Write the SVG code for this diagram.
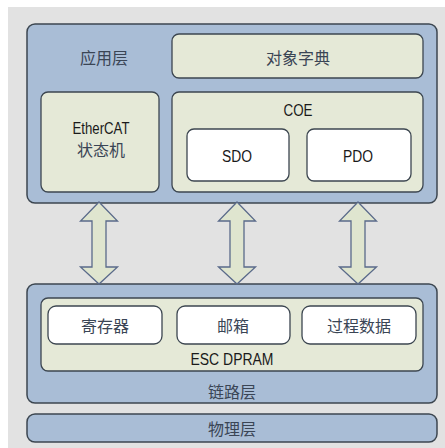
<svg xmlns="http://www.w3.org/2000/svg" width="445" height="448" viewBox="0 0 445 448">
<style>
.layer{fill:#a9bdd6;stroke:#3c4650;stroke-width:1.5}
.beige{fill:#e5e9d7;stroke:#3c4650;stroke-width:1.3}
.white{fill:#ffffff;stroke:#3c4650;stroke-width:1.3}
.arrow{fill:#dfe5cf;stroke:#5a6a8a;stroke-width:1.3;stroke-linejoin:miter}
text{font-family:"Liberation Sans","Noto Sans CJK SC",sans-serif;font-size:16px;fill:#1a1a1a;text-anchor:middle;dominant-baseline:central}
.cn{font-family:"Noto Sans CJK SC",sans-serif;font-size:16px;fill:#3a4555}
</style>
<defs>
<path id="dbl" d="M0,0 L18.5,19 L7,19 L7,65 L18.5,65 L0,82 L-18.5,65 L-7,65 L-7,19 L-18.5,19 Z"/>
</defs>
<rect x="0" y="0" width="445" height="448" fill="#ffffff"/>
<rect x="8" y="7" width="437" height="441" fill="#e2e2e2"/>
<g id="app-layer">
<rect class="layer" x="27" y="24" width="410" height="179" rx="8"/>
<text class="cn" x="104" y="57">应用层</text>
</g>
<g id="object-dictionary">
<rect class="beige" x="172" y="34" width="251" height="44" rx="7"/>
<text class="cn" x="298" y="57">对象字典</text>
</g>
<g id="ethercat-sm">
<rect class="beige" x="41" y="92" width="118" height="100" rx="7"/>
<text x="101" y="128" textLength="57" lengthAdjust="spacingAndGlyphs">EtherCAT</text>
<text class="cn" x="101" y="149">状态机</text>
</g>
<g id="coe">
<rect class="beige" x="172" y="92" width="251" height="100" rx="7"/>
<text x="298" y="110" textLength="29" lengthAdjust="spacingAndGlyphs">COE</text>
</g>
<g id="sdo">
<rect class="white" x="187" y="129" width="102" height="52" rx="7"/>
<text x="237" y="156" textLength="30" lengthAdjust="spacingAndGlyphs">SDO</text>
</g>
<g id="pdo">
<rect class="white" x="307" y="129" width="104" height="52" rx="7"/>
<text x="358" y="156" textLength="30" lengthAdjust="spacingAndGlyphs">PDO</text>
</g>
<g id="link-layer">
<rect class="layer" x="27" y="284" width="410" height="119" rx="8"/>
<text class="cn" x="232" y="391">链路层</text>
</g>
<g id="esc-dpram">
<rect class="beige" x="41" y="298" width="382" height="73" rx="7"/>
<text x="232" y="359" textLength="83" lengthAdjust="spacingAndGlyphs">ESC DPRAM</text>
</g>
<g id="register">
<rect class="white" x="48" y="306" width="114" height="38" rx="8"/>
<text class="cn" x="105" y="325">寄存器</text>
</g>
<g id="mailbox">
<rect class="white" x="177" y="306" width="113" height="38" rx="8"/>
<text class="cn" x="233" y="325">邮箱</text>
</g>
<g id="process-data">
<rect class="white" x="302" y="306" width="114" height="38" rx="8"/>
<text class="cn" x="359" y="325">过程数据</text>
</g>
<g id="phys-layer">
<rect class="layer" x="27" y="414" width="410" height="28" rx="8"/>
<text class="cn" x="232" y="428">物理层</text>
</g>
<g id="connectors">
<use href="#dbl" class="arrow" x="99" y="202"/>
<use href="#dbl" class="arrow" x="237" y="202"/>
<use href="#dbl" class="arrow" x="358" y="202"/>
</g>
</svg>
